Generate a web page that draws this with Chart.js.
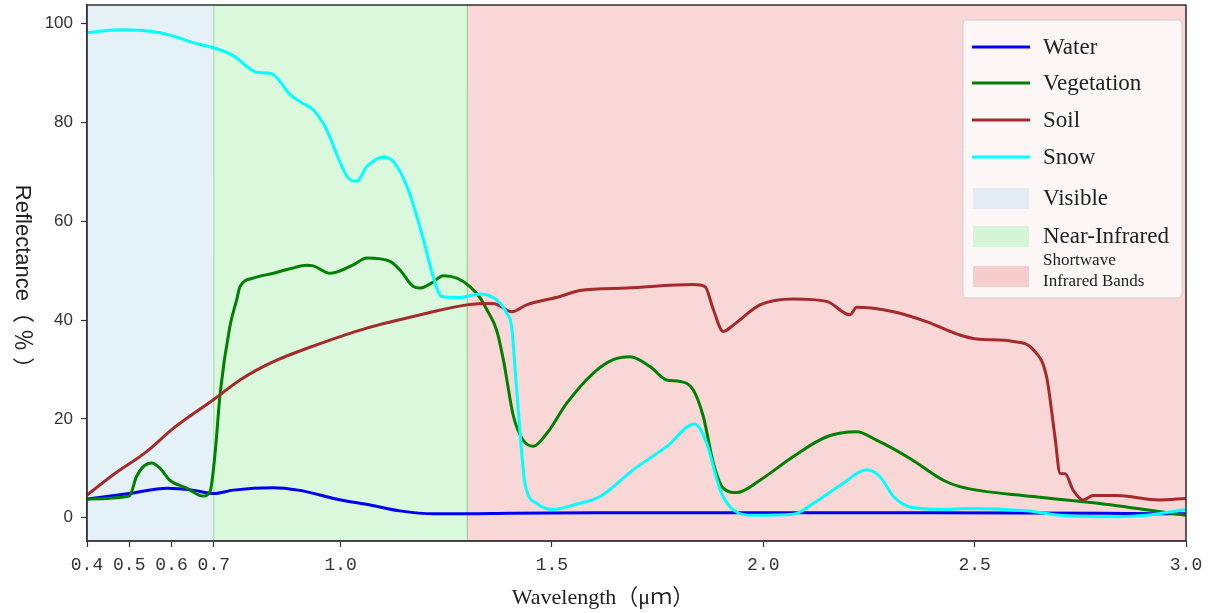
<!DOCTYPE html>
<html>
<head>
<meta charset="utf-8">
<style>
  body { margin: 0; background: #fff; }
</style>
</head>
<body>
<canvas id="spectra" width="1210" height="613"></canvas>
<script src="https://cdn.jsdelivr.net/npm/chart.js"></script>
<script>
  // axis limits, ticks and titles
  const xRange = [0.4, 3.0];
  const yRange = [-4.7, 103.8];
  const xTicks = [0.4, 0.5, 0.6, 0.7, 1.0, 1.5, 2.0, 2.5, 3.0];
  const yTicks = [0, 20, 40, 60, 80, 100];
  const xTitle = "Wavelength（μｍ）";
  const yTitle = "Reflectance（ ％ ）";

  // spectral bands (edges in um)
  const bandNames = ["Visible", "Near-Infrared", "Shortwave\nInfrared Bands"];
  const bandEdges = [0.4, 0.7, 1.3, 3.0];

  // reflectance curves
  const waterX = [0.40, 0.50, 0.59, 0.65, 0.70, 0.746, 0.84, 0.90, 1.00, 1.07, 1.14, 1.22, 1.30, 1.40, 1.60, 2.00, 2.40, 2.80, 3.00];
  const waterY = [3.8, 4.9, 6.0, 5.6, 4.9, 5.6, 6.1, 5.6, 3.6, 2.6, 1.4, 0.8, 0.8, 0.9, 1.0, 1.0, 1.0, 0.9, 0.8];

  const vegX = [0.40, 0.50, 0.517, 0.535, 0.553, 0.573, 0.596, 0.636, 0.675, 0.691, 0.703, 0.715, 0.738, 0.754, 0.762, 0.793,
    0.841, 0.88, 0.920, 0.935, 0.975, 0.999, 1.03, 1.062, 1.117, 1.140, 1.172, 1.188, 1.215, 1.243, 1.275, 1.306, 1.330,
    1.346, 1.369, 1.385, 1.409, 1.432, 1.456, 1.488, 1.535, 1.598, 1.645, 1.685, 1.732, 1.771, 1.803, 1.834, 1.858, 1.882,
    1.905, 1.937, 1.992, 2.071, 2.150, 2.221, 2.268, 2.347, 2.426, 2.465, 2.639, 2.796, 3.0];
  const vegY = [3.8, 4.4, 8.3, 10.5, 11.1, 10.0, 7.6, 6.0, 4.4, 5.3, 13.0, 25.2, 38.7, 44.1, 46.8, 48.5,
    49.5, 50.4, 51.1, 51.0, 49.5, 50.0, 51.2, 52.6, 51.9, 50.2, 46.8, 46.5, 47.5, 49.0, 48.5, 46.8, 44.5,
    42.1, 38.0, 32.0, 20.5, 15.7, 14.5, 17.1, 23.2, 29.3, 32.0, 32.6, 30.6, 27.9, 27.6, 25.9, 20.5, 11.0,
    6.0, 5.1, 7.6, 12.4, 16.4, 17.4, 15.7, 12.0, 7.6, 6.3, 4.3, 2.9, 0.5];

  const soilX = [0.40, 0.462, 0.541, 0.604, 0.699, 0.762, 0.841, 0.943, 1.062, 1.204, 1.298, 1.361, 1.405, 1.440, 1.519,
    1.566, 1.677, 1.834, 1.862, 1.882, 1.905, 1.929, 1.992, 2.071, 2.150, 2.205, 2.221, 2.308, 2.386, 2.465, 2.505, 2.591,
    2.639, 2.670, 2.690, 2.702, 2.714, 2.733, 2.757, 2.780, 2.836, 2.937, 3.0];
  const soilY = [4.6, 8.7, 13.4, 18.1, 23.9, 27.9, 31.6, 35.0, 38.4, 41.4, 43.1, 43.4, 41.7, 43.1, 44.8,
    46.0, 46.5, 47.2, 46.8, 42.1, 37.7, 39.0, 43.1, 44.3, 43.8, 41.1, 42.6, 41.7, 39.7, 37.0, 36.2, 35.7,
    34.0, 28.6, 16.4, 9.0, 8.9, 5.6, 3.6, 4.5, 4.5, 3.6, 3.9];

  const snowX = [0.40, 0.478, 0.573, 0.667, 0.698, 0.745, 0.801, 0.837, 0.880, 0.904, 0.935, 0.963, 1.018, 1.038, 1.062,
    1.101, 1.125, 1.160, 1.196, 1.219, 1.239, 1.282, 1.330, 1.369, 1.393, 1.405, 1.413, 1.424, 1.436, 1.464, 1.503, 1.551,
    1.614, 1.692, 1.771, 1.838, 1.866, 1.898, 1.929, 1.976, 2.071, 2.118, 2.189, 2.244, 2.276, 2.308, 2.347, 2.426, 2.481,
    2.623, 2.702, 2.836, 2.907, 3.0];
  const snowY = [98.2, 98.8, 98.2, 95.8, 95.2, 93.6, 90.2, 89.9, 85.7, 84.2, 82.6, 79.2, 68.8, 68.1, 71.1,
    73.0, 72.1, 66.4, 56.3, 48.8, 44.8, 44.6, 45.3, 44.1, 41.4, 38.4, 29.9, 17.8, 7.0, 2.9, 1.7, 2.6,
    4.3, 9.7, 14.4, 19.0, 15.1, 5.6, 1.6, 0.5, 0.7, 2.9, 7.0, 9.7, 8.3, 4.3, 2.2, 1.7, 1.9,
    1.4, 0.5, 0.2, 0.5, 1.7];

  const toPoints = (xs, ys) => xs.map((x, i) => ({ x, y: ys[i] }));

  const curve = (label, xs, ys, color, order) => ({
    label,
    data: toPoints(xs, ys),
    borderColor: color,
    backgroundColor: color,
    borderWidth: 3,
    pointRadius: 0,
    cubicInterpolationMode: "monotone",
    fill: false,
    order,
  });

  const bandFill = ["rgba(172,214,234,0.32)", "rgba(140,232,145,0.32)", "rgba(238,140,140,0.35)"];
  const bandSwatch = ["#e3ecf2", "#d6f4d6", "#f6cdcd"];
  const bandLine = ["rgba(0,0,0,0)", "rgba(150,215,150,0.9)", "rgba(205,160,150,0.9)"];

  const bands = bandNames.map((name, i) => ({
    label: name,
    isBand: true,
    swatch: bandSwatch[i],
    data: [
      { x: bandEdges[i], y: yRange[0] },
      { x: bandEdges[i], y: yRange[1] },
      { x: bandEdges[i + 1], y: yRange[1] },
      { x: bandEdges[i + 1], y: yRange[0] },
    ],
    borderColor: bandLine[i],
    borderWidth: 1,
    backgroundColor: bandFill[i],
    pointRadius: 0,
    tension: 0,
    fill: "start",
    order: 10,
  }));

  const frame = {
    id: "frame",
    afterDatasetsDraw(chart) {
      const { ctx, chartArea: a } = chart;
      ctx.save();
      ctx.strokeStyle = "#333";
      ctx.lineWidth = 1.5;
      ctx.strokeRect(a.left, a.top, a.right - a.left, a.bottom - a.top);
      ctx.restore();
    },
  };

  // axis titles: the y title reads top to bottom, as in the original
  const titles = {
    id: "titles",
    afterDraw(chart) {
      const ctx = chart.ctx;
      ctx.save();
      ctx.fillStyle = "#222";
      ctx.textAlign = "center";
      ctx.textBaseline = "middle";
      ctx.font = "22px 'Liberation Serif', 'Noto Sans CJK SC'";
      ctx.fillText(xTitle, 603, 598);
      ctx.translate(22, 282);
      ctx.rotate(Math.PI / 2);
      ctx.font = "22px 'Liberation Sans', 'Noto Sans CJK SC'";
      ctx.fillText(yTitle, 0, 0);
      ctx.restore();
    },
  };

  const boxLegend = {
    id: "boxLegend",
    afterDraw(chart) {
      const ctx = chart.ctx;
      const sets = chart.data.datasets;
      const lines = sets.filter((d) => !d.isBand);
      const fills = sets.filter((d) => d.isBand);
      ctx.save();
      ctx.beginPath();
      ctx.roundRect(963, 20, 219, 278, 4);
      ctx.fillStyle = "rgba(255,255,255,0.8)";
      ctx.fill();
      ctx.strokeStyle = "rgba(200,200,200,0.8)";
      ctx.lineWidth = 1;
      ctx.stroke();

      ctx.textBaseline = "middle";
      const rowsY = [47, 83, 120, 157, 198, 236, 271];
      lines.forEach((d, i) => {
        ctx.strokeStyle = d.borderColor;
        ctx.lineWidth = 3;
        ctx.beginPath();
        ctx.moveTo(972, rowsY[i]);
        ctx.lineTo(1030, rowsY[i]);
        ctx.stroke();
        ctx.fillStyle = "#222";
        ctx.font = "23px 'Liberation Serif'";
        ctx.fillText(d.label, 1043, rowsY[i] + 1);
      });
      fills.forEach((d, j) => {
        const y = rowsY[lines.length + j] + (j === 2 ? 5 : 0);
        ctx.fillStyle = d.swatch;
        ctx.fillRect(973, y - 10, 56, 21);
        ctx.fillStyle = "#222";
        const parts = d.label.split("\n");
        if (parts.length > 1) {
          ctx.font = "17px 'Liberation Serif'";
          ctx.fillText(parts[0], 1043, y - 15);
          ctx.fillText(parts[1], 1043, y + 6);
        } else {
          ctx.font = "23px 'Liberation Serif'";
          ctx.fillText(d.label, 1043, y + 1);
        }
      });
      ctx.restore();
    },
  };

  new Chart(document.getElementById("spectra"), {
    type: "line",
    data: {
      datasets: [
        curve("Water", waterX, waterY, "#0000f0", 4),
        curve("Vegetation", vegX, vegY, "#008000", 3),
        curve("Soil", soilX, soilY, "#a52a2a", 2),
        curve("Snow", snowX, snowY, "#00ffff", 1),
        ...bands,
      ],
    },
    options: {
      responsive: false,
      animation: false,
      layout: { padding: { top: 5, right: 24, left: 0, bottom: 0 } },
      plugins: { legend: { display: false }, tooltip: { enabled: false } },
      scales: {
        x: {
          type: "linear",
          min: xRange[0],
          max: xRange[1],
          afterBuildTicks: (s) => { s.ticks = xTicks.map((v) => ({ value: v })); },
          afterFit: (s) => { s.height = 72; s.paddingLeft = 0; s.paddingRight = 0; },
          ticks: {
            autoSkip: false,
            maxRotation: 0,
            padding: 7,
            color: "#333",
            font: { family: "'Liberation Mono'", size: 18 },
            callback: (v) => v.toFixed(1),
          },
          grid: { drawOnChartArea: false, tickLength: 6, color: "#333", tickWidth: 1.2 },
          border: { color: "#333", width: 1.5 },
        },
        y: {
          min: yRange[0],
          max: yRange[1],
          afterBuildTicks: (s) => { s.ticks = yTicks.map((v) => ({ value: v })); },
          afterFit: (s) => { s.width = 87; s.paddingTop = 0; s.paddingBottom = 0; },
          ticks: {
            padding: 8,
            color: "#333",
            font: { family: "'Liberation Sans'", size: 17 },
          },
          grid: { drawOnChartArea: false, tickLength: 6, color: "#333", tickWidth: 1.2 },
          border: { color: "#333", width: 1.5 },
        },
      },
    },
    plugins: [frame, titles, boxLegend],
  });
</script>
</body>
</html>
